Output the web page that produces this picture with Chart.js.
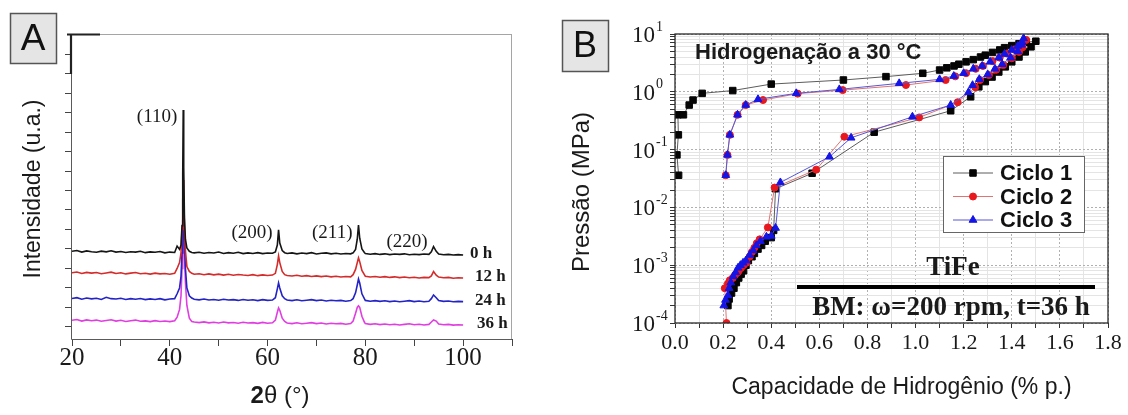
<!DOCTYPE html>
<html lang="pt">
<head>
<meta charset="utf-8">
<title>TiFe: DRX e isotermas PCT</title>
<script src="https://cdn.jsdelivr.net/npm/chart.js"></script>
<style>
  html, body { margin: 0; padding: 0; background: #fff; }
  #wrap { position: relative; width: 1128px; height: 415px; }
  #xrdChart { position: absolute; left: 0; top: 0; }
  #pctChart { position: absolute; left: 560px; top: 0; }
</style>
</head>
<body>
<div id="wrap">
  <canvas id="xrdChart" width="560" height="415"></canvas>
  <canvas id="pctChart" width="568" height="415"></canvas>
</div>
<script>
const SANS = "'Liberation Sans', Arial, sans-serif";
const SERIF = "'Liberation Serif', 'Times New Roman', serif";
Chart.defaults.font.family = SANS;
Chart.defaults.color = '#1a1a1a';

// ---------- A: difratogramas ----------
const twoTheta = [
  20, 21, 22, 23, 24, 25, 26, 27, 28, 29, 30, 31, 32, 33, 34, 35, 36, 37, 38, 39, 40,
  41, 41.5, 42, 42.3, 42.5, 42.65, 42.75, 42.85, 43, 43.2, 43.5, 44, 44.5,
  45, 46, 47, 48, 49, 50, 51, 52, 53, 54, 55, 56, 57, 58, 59, 60, 61,
  61.6, 62, 62.25, 62.5, 63, 63.5,
  64, 65, 66, 67, 68, 69, 70, 71, 72, 73, 74, 75, 76, 77,
  77.5, 78, 78.35, 78.6, 78.85, 79.3, 79.8,
  80, 81, 82, 83, 84, 85, 86, 87, 88, 89, 90, 91, 92, 93,
  93.5, 93.95, 94.5,
  95, 96, 97, 98, 99, 100
];
const millingTimes = ['0 h', '12 h', '24 h', '36 h'];
const intensity0h = [
  388, 392, 384, 390, 386, 383, 389, 385, 391, 384, 387, 382, 386, 384, 388, 381, 385, 383, 387, 380, 384,
  382, 415, 398, 420, 520, 780, 1113, 820, 560, 450, 405, 388, 382,
  380, 383, 378, 382, 379, 384, 377, 381, 378, 383, 376, 380, 377, 381, 376, 379, 378,
  385, 420, 498, 430, 392, 381,
  377, 380, 375, 379, 376, 381, 374, 378, 380, 375, 378, 374, 377, 375,
  380, 398, 450, 523, 455, 400, 382,
  377, 373, 376, 372, 375, 371, 374, 372, 375, 370, 373, 371, 374, 372,
  385, 412, 388,
  374, 370, 372, 369, 371, 369
];
const intensity12h = [
  278, 282, 274, 280, 276, 279, 273, 277, 281, 274, 278, 272, 276, 279, 273, 275, 271, 276, 272, 274, 270,
  275, 300, 330, 380, 500, 650, 754, 700, 520, 390, 310, 285, 275,
  270, 273, 268, 272, 267, 271, 266, 270, 265, 269, 266, 264, 268, 263, 267, 264, 266,
  275, 320, 364, 330, 285, 268,
  264, 261, 265, 260, 263, 259, 262, 258, 261, 257, 260, 256, 259, 257,
  268, 295, 330, 354, 335, 290, 268,
  260, 256, 259, 255, 258, 254, 257, 253, 256, 252, 255, 251, 254, 253,
  262, 284, 265,
  256, 252, 254, 250, 252, 251
];
const intensity24h = [
  146, 150, 142, 148, 144, 147, 141, 152, 145, 143, 147, 141, 145, 142, 146, 140, 144, 141, 145, 139, 143,
  145, 170, 200, 260, 380, 540, 640, 600, 440, 300, 200, 160, 148,
  142, 139, 143, 138, 141, 137, 142, 138, 140, 136, 141, 137, 139, 135, 140, 136, 138,
  150, 195, 226, 200, 160, 145,
  138, 135, 139, 134, 137, 140, 135, 138, 133, 137, 134, 136, 132, 135,
  145, 175, 215, 246, 225, 170, 145,
  136, 132, 135, 131, 134, 130, 133, 129, 132, 135, 130, 133, 129, 132,
  145, 164, 150,
  135, 131, 133, 129, 131, 130
];
const intensity36h = [
  34, 38, 30, 36, 32, 35, 29, 33, 37, 30, 34, 28, 32, 35, 29, 31, 27, 32, 28, 30, 27,
  32, 50, 90, 160, 300, 470, 590, 540, 380, 230, 110, 45, 28,
  25, 22, 26, 21, 24, 20, 25, 21, 23, 19, 24, 20, 22, 18, 23, 19, 21,
  35, 75, 97, 85, 45, 28,
  20, 17, 21, 16, 19, 22, 17, 20, 15, 19, 16, 18, 14, 17,
  30, 70, 100, 108, 100, 55, 25,
  17, 13, 16, 12, 15, 11, 14, 10, 13, 16, 11, 14, 10, 13,
  25, 36, 30,
  15, 11, 13, 9, 11, 10
];
const thetaTickLabels = [20, 40, 60, 80, 100];
const intensityTicks = [0, 100, 200, 300, 400, 500, 600, 700, 800, 900, 1000, 1100, 1200, 1300, 1400];
const reflections = ['(110)', '(200)', '(211)', '(220)'];
const reflectionAngles = [42.76, 62.25, 78.6, 93.95];

// ---------- B: isotermas PCT ----------
const cycle1Capacity = [0.015, 0.008, 0.014, 0.012, 0.035, 0.059, 0.075, 0.113, 0.24, 0.40, 0.70, 0.877, 1.03, 1.10,
  1.13, 1.16, 1.18, 1.21, 1.24, 1.27, 1.29, 1.32, 1.35, 1.37, 1.40, 1.43, 1.46, 1.50,
  1.48, 1.456, 1.43, 1.40, 1.373, 1.346, 1.318, 1.29, 1.263, 1.229, 1.146, 0.828, 0.57, 0.418,
  0.41, 0.40, 0.375, 0.36, 0.345, 0.33, 0.32, 0.305, 0.295, 0.285, 0.275, 0.265, 0.255, 0.245, 0.235, 0.225, 0.22];
const cycle1Pressure = [0.036, 0.081, 0.18, 0.40, 0.40, 0.59, 0.72, 0.94, 1.05, 1.36, 1.60, 1.83, 2.09, 2.38,
  2.6, 2.8, 3.0, 3.3, 3.6, 4.0, 4.3, 4.8, 5.3, 5.8, 6.3, 6.8, 7.2, 7.5,
  6.0, 4.9, 4.0, 3.3, 2.7, 2.2, 1.8, 1.5, 1.22, 0.82, 0.47, 0.20, 0.039, 0.021,
  0.004, 0.003, 0.0026, 0.0022, 0.0019, 0.0016, 0.0014, 0.0012, 0.001, 0.0008, 0.0007, 0.0006, 0.0005, 0.0004, 0.00033, 0.00026, 0.0002];
const cycle2Capacity = [0.211, 0.218, 0.228, 0.26, 0.294, 0.366, 0.51, 0.697, 0.96, 1.125,
  1.165, 1.21, 1.25, 1.28, 1.32, 1.35, 1.38, 1.41, 1.44, 1.46,
  1.445, 1.43, 1.40, 1.365, 1.335, 1.305, 1.268, 1.248, 1.175, 1.015, 0.704, 0.587, 0.414,
  0.386, 0.352, 0.34, 0.33, 0.32, 0.31, 0.297, 0.285, 0.275, 0.265, 0.26, 0.25, 0.24, 0.228, 0.22, 0.207, 0.214];
const cycle2Pressure = [0.036, 0.081, 0.18, 0.40, 0.59, 0.72, 0.93, 1.07, 1.31, 1.6,
  1.85, 2.1, 2.5, 2.8, 3.4, 3.9, 4.6, 5.4, 6.5, 7.9,
  5.9, 4.9, 3.8, 2.9, 2.4, 1.95, 1.6, 1.2, 0.66, 0.36, 0.167, 0.045, 0.022,
  0.0045, 0.0028, 0.0024, 0.002, 0.0017, 0.0014, 0.0011, 0.001, 0.0009, 0.0008, 0.00075, 0.00068, 0.0006, 0.00055, 0.00048, 0.0004, 0.0001];
const cycle3Capacity = [0.211, 0.218, 0.228, 0.26, 0.294, 0.345, 0.504, 0.683, 0.932, 1.10,
  1.159, 1.20, 1.24, 1.277, 1.31, 1.346, 1.37, 1.40, 1.425, 1.443, 1.449,
  1.44, 1.425, 1.395, 1.36, 1.33, 1.30, 1.265, 1.237, 1.22, 1.146, 0.987, 0.732, 0.642, 0.438,
  0.418, 0.40, 0.38, 0.355, 0.338, 0.325, 0.31, 0.295, 0.283, 0.272, 0.262, 0.252, 0.242, 0.232, 0.225, 0.22, 0.21, 0.203];
const cycle3Pressure = [0.036, 0.081, 0.18, 0.40, 0.59, 0.74, 0.94, 1.1, 1.40, 1.64,
  1.87, 2.1, 2.5, 2.8, 3.3, 3.9, 4.5, 5.3, 6.2, 7.2, 8.4,
  6.5, 5.0, 3.9, 3.0, 2.5, 2.0, 1.65, 1.3, 0.98, 0.59, 0.37, 0.16, 0.075, 0.027,
  0.0044, 0.0032, 0.0031, 0.0026, 0.0022, 0.0018, 0.0015, 0.0012, 0.0011, 0.001, 0.0009, 0.00075, 0.00064, 0.0005, 0.0004, 0.0003, 0.00025, 0.0002];
const cycleLabels = ['Ciclo 1', 'Ciclo 2', 'Ciclo 3'];
const capacityTickLabels = ['0.0', '0.2', '0.4', '0.6', '0.8', '1.0', '1.2', '1.4', '1.6', '1.8'];
const pressureDecades = [-4, -3, -2, -1, 0, 1];

const zip = (xs, ys) => xs.map((x, i) => ({ x: x, y: ys[i] }));

function drawPanelTag(ctx, letter, x, y, w, h, size) {
  ctx.save();
  ctx.fillStyle = '#e5e5e5';
  ctx.fillRect(x, y, w, h);
  ctx.strokeStyle = '#555';
  ctx.lineWidth = 1.5;
  ctx.strokeRect(x + 0.5, y + 0.5, w, h);
  ctx.fillStyle = '#111';
  ctx.font = size + 'px ' + SANS;
  ctx.textAlign = 'center';
  ctx.textBaseline = 'middle';
  ctx.fillText(letter, x + w / 2, y + h / 2 + 2);
  ctx.restore();
}

function rotatedText(ctx, text, x, y, font) {
  ctx.save();
  ctx.translate(x, y);
  ctx.rotate(-Math.PI / 2);
  ctx.font = font;
  ctx.textAlign = 'center';
  ctx.textBaseline = 'middle';
  ctx.fillText(text, 0, 0);
  ctx.restore();
}

// frame, peak indices, time labels and axis titles for the XRD panel
const xrdDecor = {
  id: 'xrdDecor',
  afterDraw(chart) {
    const { ctx, chartArea: a, scales: { x, y } } = chart;
    ctx.save();
    ctx.lineWidth = 1;
    ctx.strokeStyle = '#a5a5a5';
    ctx.beginPath();
    ctx.moveTo(a.left, a.top + 0.5); ctx.lineTo(a.right, a.top + 0.5);
    ctx.moveTo(a.right - 0.5, a.top); ctx.lineTo(a.right - 0.5, a.bottom);
    ctx.stroke();
    ctx.strokeStyle = '#5a5a5a';
    ctx.beginPath();
    ctx.moveTo(a.left - 0.5, a.top); ctx.lineTo(a.left - 0.5, a.bottom + 0.5); ctx.lineTo(a.right, a.bottom + 0.5);
    ctx.stroke();
    ctx.strokeStyle = '#222';
    ctx.lineWidth = 2.2;
    ctx.beginPath();
    ctx.moveTo(a.left - 5, a.top + 0.5); ctx.lineTo(a.left + 28, a.top + 0.5);
    ctx.moveTo(a.left - 1, a.top); ctx.lineTo(a.left - 1, a.top + 40);
    ctx.stroke();

    ctx.fillStyle = '#1a1a1a';
    ctx.font = '19px ' + SERIF;
    ctx.textAlign = 'right';
    ctx.textBaseline = 'middle';
    const labelY = [117, 233, 233, 242];
    reflections.forEach((r, i) => {
      ctx.fillText(r, x.getPixelForValue(reflectionAngles[i]) - 6, labelY[i]);
    });

    ctx.font = 'bold 17px ' + SERIF;
    ctx.textAlign = 'left';
    const series = chart.data.datasets;
    const labelX = [470, 475, 475, 477];
    millingTimes.forEach((t, i) => {
      const last = series[i].data[series[i].data.length - 1].y;
      ctx.fillText(t, labelX[i], y.getPixelForValue(last) - 1);
    });

    rotatedText(ctx, 'Intensidade (u.a.)', 34, 189, '23px ' + SANS);
    ctx.font = 'bold 24px ' + SANS;
    const w1 = ctx.measureText('2').width;
    ctx.font = '24px ' + SANS;
    const w2 = ctx.measureText('\u03b8 (\u00b0)').width;
    let sx = 280 - (w1 + w2) / 2;
    ctx.textAlign = 'left';
    ctx.font = 'bold 24px ' + SANS;
    ctx.fillText('2', sx, 396);
    ctx.font = '24px ' + SANS;
    ctx.fillText('\u03b8 (\u00b0)', sx + w1, 396);
    ctx.restore();

    drawPanelTag(ctx, 'A', 10, 13, 46, 50, 37);
  }
};

const xrdColors = ['#151515', '#d42b2b', '#2323c6', '#e03ee0'];
const xrdSeries = [intensity0h, intensity12h, intensity24h, intensity36h];

new Chart(document.getElementById('xrdChart'), {
  type: 'line',
  data: {
    datasets: xrdSeries.map((s, i) => ({
      label: millingTimes[i],
      data: zip(twoTheta, s),
      borderColor: xrdColors[i],
      borderWidth: 1.6,
      pointRadius: 0,
      tension: 0
    }))
  },
  options: {
    responsive: false,
    animation: false,
    devicePixelRatio: 1,
    layout: { padding: { top: 34, right: 48, left: 0, bottom: 0 } },
    plugins: { legend: { display: false }, tooltip: { enabled: false } },
    scales: {
      x: {
        type: 'linear', min: 20, max: 110,
        ticks: {
          stepSize: 10, autoSkip: false, maxRotation: 0, padding: 0,
          font: { family: SERIF, size: 25, lineHeight: 1 }, color: '#1a1a1a',
          callback: v => thetaTickLabels.includes(v) ? String(v) : ''
        },
        grid: { drawOnChartArea: false, tickLength: 7, tickColor: '#444' },
        border: { display: false },
        afterFit: s => { s.height = 76; }
      },
      y: {
        min: -62, max: 1503,
        afterBuildTicks: s => { s.ticks = intensityTicks.map(v => ({ value: v })); },
        ticks: { display: false },
        grid: { drawOnChartArea: false, tickLength: 7, tickColor: '#444' },
        border: { display: false },
        afterFit: s => { s.width = 72; }
      }
    }
  },
  plugins: [xrdDecor]
});

// frame, decade labels, notes and legend for the PCT panel
const pctDecor = {
  id: 'pctDecor',
  afterDraw(chart) {
    const { ctx, chartArea: a, scales: { y } } = chart;
    ctx.save();
    ctx.strokeStyle = '#2a2a2a';
    ctx.lineWidth = 1.3;
    ctx.strokeRect(a.left, a.top, a.right - a.left, a.bottom - a.top);

    ctx.fillStyle = '#1a1a1a';
    pressureDecades.forEach(k => {
      const py = y.getPixelForValue(Math.pow(10, k));
      ctx.font = '23px ' + SERIF;
      ctx.textAlign = 'right';
      ctx.textBaseline = 'middle';
      ctx.fillText('10', a.left - 20, py + 2);
      ctx.font = '14px ' + SERIF;
      ctx.textAlign = 'left';
      ctx.fillText(String(k), a.left - 19, py - 7);
    });

    ctx.textBaseline = 'middle';
    ctx.textAlign = 'left';
    ctx.font = 'bold 22px ' + SANS;
    ctx.fillText('Hidrogena\u00e7\u00e3o a 30 \u00b0C', a.left + 20, a.top + 19);

    ctx.textAlign = 'center';
    ctx.font = 'bold 27px ' + SERIF;
    ctx.fillText('TiFe', a.left + 278, 268);
    ctx.fillText('BM: \u03c9=200 rpm, t=36 h', a.left + 276, 308);
    ctx.lineWidth = 4;
    ctx.strokeStyle = '#000';
    ctx.beginPath();
    ctx.moveTo(a.left + 122, 287); ctx.lineTo(a.right - 13, 287);
    ctx.stroke();

    // legend
    const lx = a.right - 165, ly = 156;
    ctx.fillStyle = '#fff';
    ctx.fillRect(lx, ly, 141, 76);
    ctx.strokeStyle = '#666';
    ctx.lineWidth = 1;
    ctx.strokeRect(lx + 0.5, ly + 0.5, 141, 76);
    const drawPoint = Chart.helpers && Chart.helpers.drawPoint;
    chart.data.datasets.forEach((ds, i) => {
      const ry = ly + 17 + i * 23.5;
      ctx.strokeStyle = ds.borderColor;
      ctx.lineWidth = 1;
      ctx.beginPath();
      ctx.moveTo(lx + 10, ry); ctx.lineTo(lx + 50, ry);
      ctx.stroke();
      ctx.fillStyle = ds.pointBackgroundColor;
      ctx.strokeStyle = ds.pointBorderColor;
      if (drawPoint) {
        drawPoint(ctx, { pointStyle: ds.pointStyle, radius: ds.pointRadius, rotation: 0, borderWidth: 1 }, lx + 30, ry);
      } else {
        ctx.beginPath(); ctx.arc(lx + 30, ry, ds.pointRadius, 0, Math.PI * 2); ctx.fill();
      }
      ctx.fillStyle = '#111';
      ctx.font = 'bold 22px ' + SANS;
      ctx.textAlign = 'left';
      ctx.fillText(ds.label, lx + 57, ry + 1);
    });

    ctx.fillStyle = '#1a1a1a';
    rotatedText(ctx, 'Press\u00e3o (MPa)', 22, 192, '24px ' + SANS);
    ctx.textAlign = 'center';
    ctx.textBaseline = 'middle';
    ctx.font = '23px ' + SANS;
    ctx.fillText('Capacidade de Hidrog\u00eanio (% p.)', (a.left + a.right) / 2 + 10, 388);
    ctx.restore();

    drawPanelTag(ctx, 'B', 2, 20, 46, 51, 36);
  }
};

const isDecade = v => Math.abs(Math.log10(v) - Math.round(Math.log10(v))) < 1e-6;
const isEvenTenth = v => Math.round(v * 10) % 2 === 0;

new Chart(document.getElementById('pctChart'), {
  type: 'scatter',
  data: {
    datasets: [
      {
        label: cycleLabels[0], data: zip(cycle1Capacity, cycle1Pressure), showLine: true,
        borderColor: '#5c5c5c', borderWidth: 1, pointStyle: 'rect', pointRadius: 4.6,
        pointBackgroundColor: '#050505', pointBorderColor: '#050505', order: 3
      },
      {
        label: cycleLabels[1], data: zip(cycle2Capacity, cycle2Pressure), showLine: true,
        borderColor: '#e07474', borderWidth: 1, pointStyle: 'circle', pointRadius: 3.5,
        pointBackgroundColor: '#e8191e', pointBorderColor: '#e8191e', order: 2
      },
      {
        label: cycleLabels[2], data: zip(cycle3Capacity, cycle3Pressure), showLine: true,
        borderColor: '#5757d6', borderWidth: 1, pointStyle: 'triangle', pointRadius: 4.5,
        pointBackgroundColor: '#1414e6', pointBorderColor: '#1414e6', order: 1
      }
    ]
  },
  options: {
    responsive: false,
    animation: false,
    devicePixelRatio: 1,
    layout: { padding: { top: 34, right: 20, left: 0, bottom: 0 } },
    plugins: { legend: { display: false }, tooltip: { enabled: false } },
    scales: {
      x: {
        type: 'linear', min: 0, max: 1.8,
        ticks: {
          stepSize: 0.1, autoSkip: false, maxRotation: 0, padding: 4,
          font: { family: SERIF, size: 22, lineHeight: 1 }, color: '#1a1a1a',
          callback: v => { const s = v.toFixed(1); return capacityTickLabels.includes(s) ? s : ''; }
        },
        grid: {
          color: c => isEvenTenth(c.tick.value) ? '#b0b0b0' : '#e4e4e4',
          tickLength: 5, tickColor: '#333'
        },
        border: { display: false, dash: c => (c.tick && isEvenTenth(c.tick.value)) ? [2, 2] : [] },
        afterFit: s => { s.height = 92; }
      },
      y: {
        type: 'logarithmic', min: 1e-4, max: 10,
        afterBuildTicks: s => {
          const t = [];
          pressureDecades.slice(0, -1).forEach(k => {
            for (let m = 1; m <= 9; m++) t.push({ value: m * Math.pow(10, k) });
          });
          t.push({ value: Math.pow(10, pressureDecades[pressureDecades.length - 1]) });
          s.ticks = t;
        },
        ticks: { display: false },
        grid: {
          color: c => isDecade(c.tick.value) ? '#b0b0b0' : '#e4e4e4',
          tickLength: 5, tickColor: '#333'
        },
        border: { display: false, dash: c => (c.tick && isDecade(c.tick.value)) ? [2, 2] : [] },
        afterFit: s => { s.width = 115; }
      }
    }
  },
  plugins: [pctDecor]
});
</script>
</body>
</html>
